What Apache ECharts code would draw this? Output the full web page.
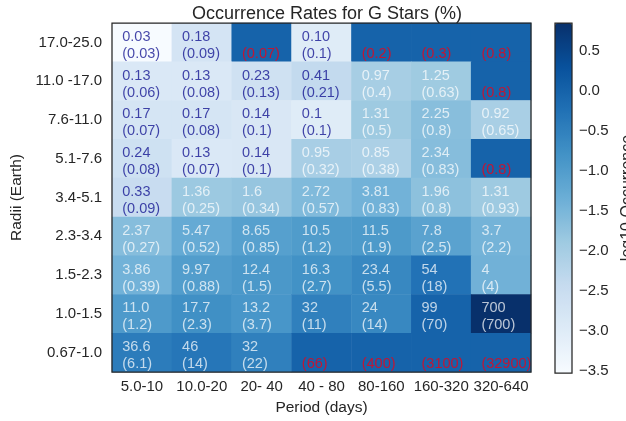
<!DOCTYPE html>
<html>
<head>
<meta charset="utf-8">
<script src="https://cdn.jsdelivr.net/npm/echarts@6/dist/echarts.min.js"></script>
<style>html,body{margin:0;padding:0;background:#fff;}#c{width:626px;height:421px;}</style>
</head>
<body>
<div id="c"></div>
<script>
// ---- data ----
const periods = ['5.0-10', '10.0-20', '20- 40', '40 - 80', '80-160', '160-320', '320-640'];
const radii = ['17.0-25.0', '11.0 -17.0', '7.6-11.0', '5.1-7.6', '3.4-5.1', '2.3-3.4', '1.5-2.3', '1.0-1.5', '0.67-1.0'];
// occurrence rates (%) per radius row (top to bottom), per period column; null = upper limit only
const rates = [
  ['0.03', '0.18', null, '0.10', null, null, null],
  ['0.13', '0.13', '0.23', '0.41', '0.97', '1.25', null],
  ['0.17', '0.17', '0.14', '0.1', '1.31', '2.25', '0.92'],
  ['0.24', '0.13', '0.14', '0.95', '0.85', '2.34', null],
  ['0.33', '1.36', '1.6', '2.72', '3.81', '1.96', '1.31'],
  ['2.37', '5.47', '8.65', '10.5', '11.5', '7.8', '3.7'],
  ['3.86', '9.97', '12.4', '16.3', '23.4', '54', '4'],
  ['11.0', '17.7', '13.2', '32', '24', '99', '700'],
  ['36.6', '46', '32', null, null, null, null]
];
// uncertainties / upper limits (%)
const errors = [
  ['0.03', '0.09', '0.07', '0.1', '0.2', '0.3', '0.8'],
  ['0.06', '0.08', '0.13', '0.21', '0.4', '0.63', '0.8'],
  ['0.07', '0.08', '0.1', '0.1', '0.5', '0.8', '0.65'],
  ['0.08', '0.07', '0.1', '0.32', '0.38', '0.83', '0.8'],
  ['0.09', '0.25', '0.34', '0.57', '0.83', '0.8', '0.93'],
  ['0.27', '0.52', '0.85', '1.2', '1.9', '2.5', '2.2'],
  ['0.39', '0.88', '1.5', '2.7', '5.5', '18', '4'],
  ['1.2', '2.3', '3.7', '11', '14', '70', '700'],
  ['6.1', '14', '22', '66', '400', '3100', '32900']
];
const colorbarTicks = [-3.5, -3.0, -2.5, -2.0, -1.5, -1.0, -0.5, 0.0, 0.5];
const UPPER_LIMIT_FILL = 100; // % used for colouring upper-limit-only cells

const blues = ['#f7fbff', '#deebf7', '#c6dbef', '#9ecae1', '#6baed6', '#4292c6', '#2171b5', '#08519c', '#08306b'];
const FONT = '"Liberation Sans", Arial, sans-serif';
const TXT = '#262626';

const data = [];
let vmin = Infinity, vmax = -Infinity;
rates.forEach((row, r) => {
  row.forEach((v, c) => {
    const num = v === null ? UPPER_LIMIT_FILL : parseFloat(v);
    const lg = Math.log10(num / 100);
    if (v !== null) { vmin = Math.min(vmin, lg); vmax = Math.max(vmax, lg); }
    let color, text;
    if (v === null) {
      color = 'rgba(240,0,20,0.78)';
      text = '\n(' + errors[r][c] + ')';
    } else {
      color = num < 0.5 ? 'rgba(10,10,140,0.75)' : 'rgba(255,255,255,0.72)';
      text = v + '\n(' + errors[r][c] + ')';
    }
    data.push({ value: [c, r, lg], txt: text, label: { color: color } });
  });
});

const chart = echarts.init(document.getElementById('c'));
chart.setOption({
  animation: false,
  textStyle: { fontFamily: FONT },
  title: {
    text: 'Occurrence Rates for G Stars (%)',
    left: 322, top: 0, textAlign: 'center',
    textStyle: { fontSize: 18, fontWeight: 'normal', color: TXT, fontFamily: FONT }
  },
  grid: [
    { left: 112, top: 23, width: 419, height: 349, show: true, z: 10, outerBoundsMode: 'none', containLabel: false,
      backgroundColor: 'transparent', borderColor: '#262626', borderWidth: 1.25 },
    { left: 555, top: 23, width: 17, height: 350, show: true, z: 10, outerBoundsMode: 'none', containLabel: false,
      backgroundColor: 'transparent', borderColor: '#262626', borderWidth: 1.25 }
  ],
  xAxis: [
    { type: 'category', gridIndex: 0, data: periods,
      axisLine: { show: false }, axisTick: { show: false }, splitLine: { show: false },
      axisLabel: { color: TXT, fontSize: 15, margin: 7, interval: 0 },
      name: 'Period (days)', nameLocation: 'middle', nameGap: 28,
      nameTextStyle: { color: TXT, fontSize: 15.5 } },
    { type: 'value', gridIndex: 1, show: false, min: 0, max: 1 }
  ],
  yAxis: [
    { type: 'category', gridIndex: 0, data: radii, inverse: true,
      axisLine: { show: false }, axisTick: { show: false }, splitLine: { show: false },
      axisLabel: { color: TXT, fontSize: 15, margin: 10, interval: 0 },
      name: 'Radii (Earth)', nameLocation: 'middle', nameGap: 85,
      nameTextStyle: { color: TXT, fontSize: 15.5 } },
    { type: 'value', gridIndex: 1, position: 'right', min: vmin, max: vmax,
      axisLine: { show: false }, axisTick: { show: false }, splitLine: { show: false },
      axisLabel: { color: TXT, fontSize: 15, margin: 7, customValues: colorbarTicks,
        formatter: v => v.toFixed(1).replace('-', '\u2212') },
      name: 'log10 Occurrence', nameLocation: 'middle', nameGap: 48, nameRotate: 90,
      nameTextStyle: { color: TXT, fontSize: 16 } }
  ],
  visualMap: {
    type: 'continuous', seriesIndex: 0, dimension: 2,
    min: vmin, max: vmax, calculable: false, hoverLink: false,
    left: 555, top: 23, itemWidth: 17, itemHeight: 350, padding: 0,
    text: null, showLabel: false,
    inRange: { color: blues }
  },
  series: [{
    type: 'heatmap', xAxisIndex: 0, yAxisIndex: 0,
    data: data,
    itemStyle: { borderWidth: 0 },
    label: {
      show: true, position: 'insideLeft', distance: 10.5, offset: [0, 3],
      fontSize: 14.5, lineHeight: 17, align: 'left', fontFamily: FONT,
      formatter: p => data[p.dataIndex].txt
    },
    emphasis: { disabled: true }
  }]
});
</script>
</body>
</html>
